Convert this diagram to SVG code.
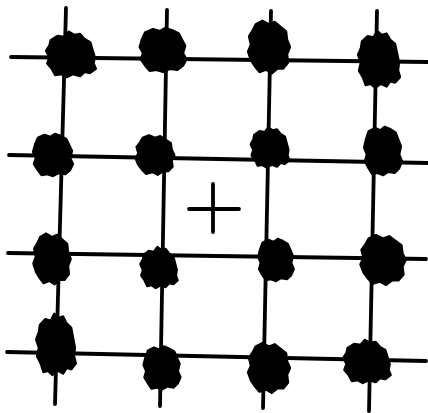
<svg xmlns="http://www.w3.org/2000/svg" width="428" height="413" viewBox="0 0 428 413">
<style>
.ln{stroke:#000;stroke-width:3.8;stroke-linecap:round;fill:none}
.bl{fill:#000;stroke:#000;stroke-width:2.5;stroke-linejoin:round}
</style>
<defs>
<path id="bA" d="M -18,-14 L -12,-18 -6,-17 -2,-22 3,-19 8,-20 12,-15 17,-12 19,-5 21,2 20,8 22,13 17,17 12,16 8,20 2,18 -4,21 -9,18 -14,19 -17,13 -21,8 -19,2 -22,-4 -19,-9 Z"/>
<path id="bB" d="M -16,-17 L -9,-20 -3,-18 2,-21 8,-19 14,-16 17,-10 20,-4 18,3 21,9 18,15 13,19 6,18 0,21 -6,19 -12,20 -16,15 -20,9 -18,3 -21,-3 -19,-10 Z"/>
<path id="bC" d="M -14,-19 L -7,-22 0,-19 6,-21 12,-17 18,-13 19,-6 22,0 19,6 20,13 15,18 9,18 3,22 -3,19 -10,21 -15,16 -19,11 -22,4 -19,-2 -21,-9 -17,-14 Z"/>
</defs>
<rect width="428" height="413" fill="#fff"/>
<g id="grid">
<line class="ln" x1="11" y1="57" x2="428" y2="62"/>
<line class="ln" x1="9" y1="155" x2="428" y2="163"/>
<line class="ln" x1="8" y1="253" x2="426" y2="259"/>
<line class="ln" x1="7" y1="352" x2="426" y2="361"/>
<line class="ln" x1="66" y1="8" x2="55" y2="404"/>
<line class="ln" x1="167" y1="10" x2="160" y2="406"/>
<line class="ln" x1="271" y1="11" x2="263" y2="408"/>
<line class="ln" x1="377" y1="11" x2="369" y2="411"/>
</g>
<g id="blobs">
<use href="#bA" class="bl" transform="translate(71,55) scale(1.12,1.05)"/>
<use href="#bB" class="bl" transform="translate(163,50) scale(1.1,1.04)"/>
<use href="#bC" class="bl" transform="translate(269,47) scale(0.95,1.18)"/>
<use href="#bA" class="bl" transform="translate(379,60) scale(0.95,1.3)"/>
<use href="#bB" class="bl" transform="translate(53,155) scale(0.95,1.0)"/>
<use href="#bC" class="bl" transform="translate(155,155) scale(0.88,0.9)"/>
<use href="#bA" class="bl" transform="translate(270,148) scale(0.88,0.93)"/>
<use href="#bB" class="bl" transform="translate(383,151) scale(0.9,1.14)"/>
<use href="#bC" class="bl" transform="translate(52,259) scale(0.85,1.14)"/>
<use href="#bA" class="bl" transform="translate(159,268) scale(0.85,0.95)"/>
<use href="#bB" class="bl" transform="translate(276,260) scale(0.85,1.0)"/>
<use href="#bC" class="bl" transform="translate(383,260) scale(1.02,1.12)"/>
<use href="#bA" class="bl" transform="translate(56,345) scale(0.9,1.4)"/>
<use href="#bB" class="bl" transform="translate(162,368) scale(0.88,1.02)"/>
<use href="#bC" class="bl" transform="translate(269,368) scale(0.95,1.12)"/>
<use href="#bA" class="bl" transform="translate(367,362) scale(1.07,1.0)"/>
</g>
<g id="plus">
<line class="ln" x1="189" y1="209" x2="239" y2="209"/>
<line class="ln" x1="213" y1="184" x2="213" y2="232"/>
</g>
</svg>
